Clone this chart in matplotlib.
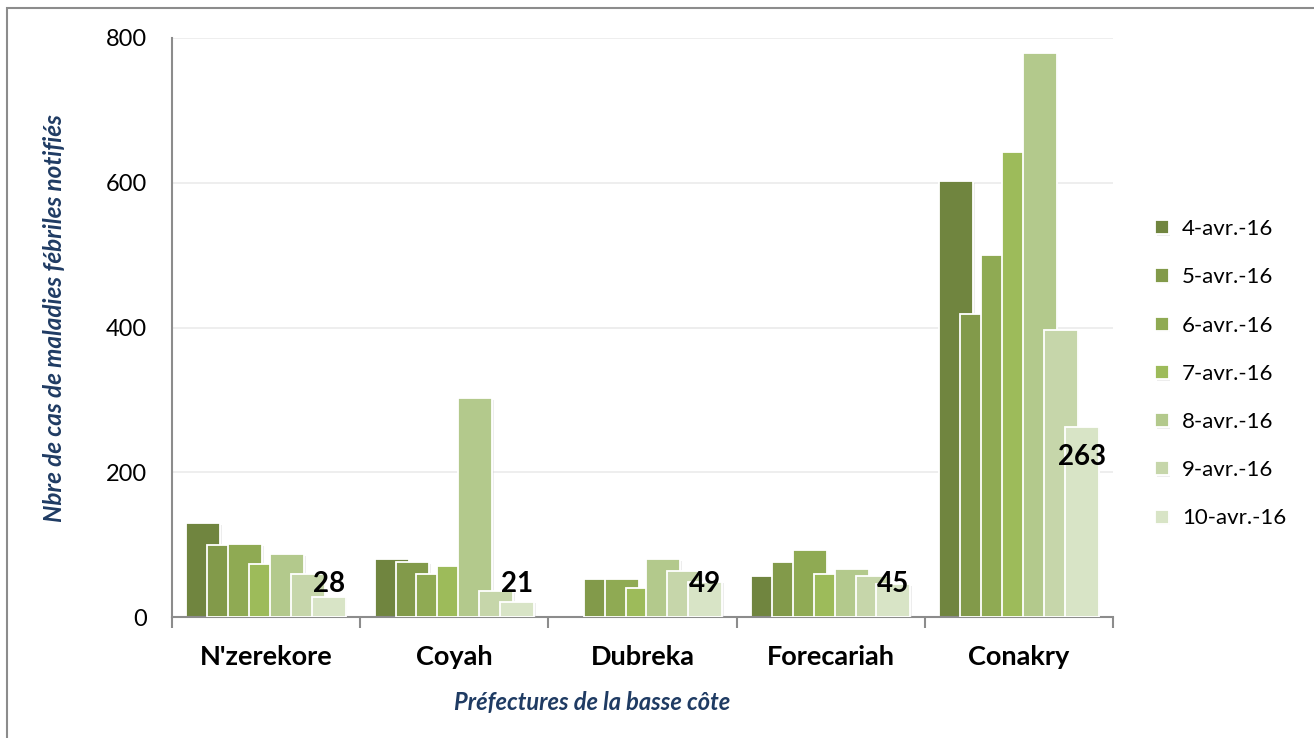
import numpy as np
import matplotlib.pyplot as plt
import matplotlib.patheffects as pe
from matplotlib.patches import Rectangle

# données
PREFECTURES = ["N'zerekore", "Coyah", "Dubreka", "Forecariah", "Conakry"]
DATES = ["4-avr.-16", "5-avr.-16", "6-avr.-16", "7-avr.-16",
         "8-avr.-16", "9-avr.-16", "10-avr.-16"]

j4  = [130, 80, 0, 56, 602]
j5  = [100, 76, 53, 76, 418]
j6  = [101, 60, 52, 93, 500]
j7  = [73, 71, 40, 60, 643]
j8  = [87, 302, 80, 67, 779]
j9  = [59, 36, 64, 57, 396]
j10 = [28, 21, 49, 45, 263]

SERIES = [j4, j5, j6, j7, j8, j9, j10]
COULEURS = ["#70853F", "#829A4A", "#8FAA53", "#9DBB5A",
            "#B3C98C", "#C6D6AA", "#D8E4C6"]

NAVY = "#1F3B63"
plt.rcParams['font.family'] = ['Lato', 'DejaVu Sans']

fig = plt.figure(figsize=(13.14, 7.38), dpi=100)
fig.patches.append(Rectangle((7 / 1314, -0.1), 1.2, 1 - 8 / 738 + 0.1,
                             transform=fig.transFigure, fill=False,
                             edgecolor="#8C8C8C", linewidth=1.5))

ax = fig.add_axes([172 / 1314, 1 - 617 / 738, (1113 - 172) / 1314, (617 - 38) / 738])

x = np.arange(len(PREFECTURES))
pas = 0.111
largeur = 0.18
ombre = [pe.SimplePatchShadow(offset=(1.2, -1.2), shadow_rgbFace="#CCCCCC", alpha=0.35), pe.Normal()]

for i, (vals, coul, date) in enumerate(zip(SERIES, COULEURS, DATES)):
    pos = x + (i - 3) * pas
    bars = ax.bar(pos, vals, width=largeur, color=coul, edgecolor="white",
                  linewidth=1.3, label=date, zorder=2 + i)
    for b in bars:
        if b.get_height() > 0:
            b.set_path_effects(ombre)
        else:
            b.set_visible(False)

# étiquettes de la dernière série
for xi, v in zip(x, j10):
    ax.text(xi + 3 * pas, max(0.84 * v, 46), str(v), ha="center", va="center",
            fontsize=20, fontweight="bold", color="black", zorder=20)

ax.set_xlim(-0.5, 4.5)
ax.set_ylim(0, 800)
ax.set_yticks([0, 200, 400, 600, 800])
ax.yaxis.grid(True, color="#EBEBEB", linewidth=1.2, zorder=0)
ax.set_axisbelow(True)

ax.set_xticks(x)
ax.set_xticklabels(PREFECTURES, fontsize=19.5, fontweight="bold")
ax.set_xticks(np.arange(-0.5, 5, 1), minor=True)
ax.tick_params(axis="x", which="major", length=0, pad=20)
ax.tick_params(axis="x", which="minor", length=8, color="#8C8C8C", width=1.5)
ax.tick_params(axis="y", length=0, labelsize=17, pad=18)

for s in ["top", "right"]:
    ax.spines[s].set_visible(False)
for s in ["left", "bottom"]:
    ax.spines[s].set_color("#8C8C8C")
    ax.spines[s].set_linewidth(1.5)

ax.set_ylabel("Nbre de cas de maladies fébriles notifiés", fontsize=17.5,
              fontweight="bold", style="italic", color=NAVY)
ax.yaxis.set_label_coords(-0.113, 0.516)
ax.set_xlabel("Préfectures de la basse côte", fontsize=17,
              fontweight="bold", style="italic", color=NAVY)
ax.xaxis.set_label_coords(0.446, -0.128)

leg = ax.legend(loc="center left", bbox_to_anchor=(1.045, 0.42), frameon=False,
                fontsize=16, handlelength=0.6, handleheight=0.6,
                handletextpad=0.6, labelspacing=1.27,
                borderpad=0, borderaxespad=0)

fig.savefig("out.png", dpi=100, facecolor="white")
